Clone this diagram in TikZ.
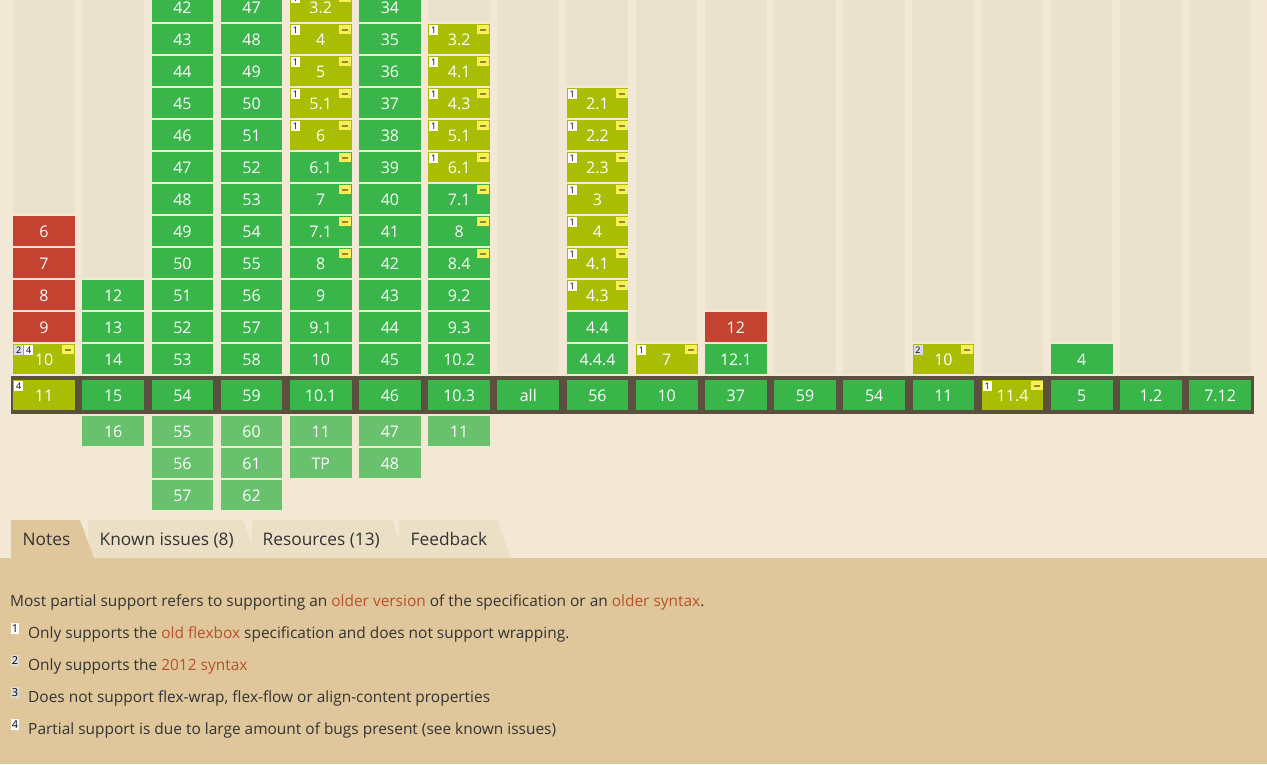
\documentclass[tikz,border=0pt]{standalone}
\usepackage{fontspec}
\setmainfont{Open Sans}
\usetikzlibrary{calc}
\definecolor{pagebg}{HTML}{F2E8D5}
\definecolor{stripecol}{HTML}{EAE1CF}
\definecolor{ygreen}{HTML}{39B54A}
\definecolor{ypartial}{HTML}{A8BD04}
\definecolor{nred}{HTML}{C44230}
\definecolor{fgreen}{HTML}{69C16E}
\definecolor{barcol}{HTML}{5B4F3F}
\definecolor{notesbg}{HTML}{DFC79B}
\definecolor{tabinact}{HTML}{EBDFC5}
\definecolor{markyellow}{HTML}{F7F05A}
\definecolor{markdash}{HTML}{8F8A2C}
\definecolor{linkcol}{HTML}{B8512C}
\definecolor{txtcol}{HTML}{333333}
\definecolor{notegrey}{HTML}{DCDCDC}
\tikzset{
  cellbox/.style={anchor=north west, inner sep=0pt, minimum width=61.7pt, minimum height=30pt,
    text height=13.4pt, text depth=0pt, text=white, font=\fontsize{16}{16}\selectfont},
  green/.style={fill=ygreen}, partial/.style={fill=ypartial}, red/.style={fill=nred},
  future/.style={fill=fgreen},
  notebox/.style={anchor=north west, inner sep=0pt, minimum width=9pt, minimum height=10pt,
    text=black, font=\fontsize{9}{9}\selectfont},
  legendbox/.style={anchor=north west, inner sep=0pt, minimum width=7.5pt, minimum height=11.5pt,
    text=black, font=\fontsize{11}{11}\selectfont},
  tabtext/.style={anchor=base west, inner sep=0pt, text=txtcol, font=\fontsize{17.3}{17.3}\selectfont},
  notetext/.style={anchor=base west, inner sep=0pt, text=txtcol, font=\fontsize{15.45}{15.45}\selectfont},
}
\newcommand\vcell[5]{\node[cellbox,#3] (#5) at ({13+69.18*(#1-1)},#2) {#4};}
\newcommand\pcell[4]{\pgfmathsetmacro\yy{344-32*#2}\vcell{#1}{\yy}{#3}{#4}{p#1-#2}}
\newcommand\ccell[3]{\vcell{#1}{380}{#2}{#3}{c#1}}
\newcommand\fcell[3]{\pgfmathsetmacro\yy{416+32*(#2-1)}\vcell{#1}{\yy}{future}{#3}{f#1-#2}}
\newcommand\prefmark[1]{%
  \fill[markyellow] ([shift={(-13,1)}]#1.north east) rectangle ([shift={(-1,10)}]#1.north east);
  \draw[markdash, line width=2pt] ([shift={(-10,5.5)}]#1.north east) -- ([shift={(-4,5.5)}]#1.north east);}
\newcommand\notemark[4]{\node[notebox,fill=#4] (#1n#3) at ([shift={(#2,1)}]#1.north west) {#3};}
\newcommand\ppart[3]{\pcell{#1}{#2}{partial}{#3}\notemark{p#1-#2}{1}{1}{white}\prefmark{p#1-#2}}
\newcommand\pgm[3]{\pcell{#1}{#2}{green}{#3}\prefmark{p#1-#2}}
\newcommand\stripe[2]{\fill[stripecol] ({13+69.18*(#1-1)},0) rectangle ({13+69.18*(#1-1)+61.7},#2);}
\begin{document}
\begin{tikzpicture}[x=1pt,y=-1pt]
\fill[pagebg] (0,0) rectangle (1267,764);
\useasboundingbox (0,0) rectangle (1267,764);
% stripes
\stripe{1}{214}\stripe{2}{278}\stripe{7}{22}\stripe{8}{374}\stripe{9}{86}
\stripe{10}{342}\stripe{11}{310}\stripe{12}{374}\stripe{13}{374}\stripe{14}{342}
\stripe{15}{374}\stripe{16}{342}\stripe{17}{374}\stripe{18}{374}
% current-row bar
\fill[barcol] (11,376) rectangle (1254,414);
% col 1
\pcell{1}{4}{red}{6}\pcell{1}{3}{red}{7}\pcell{1}{2}{red}{8}\pcell{1}{1}{red}{9}
\pcell{1}{0}{partial}{10}\notemark{p1-0}{1}{2}{notegrey}\notemark{p1-0}{11}{4}{white}\prefmark{p1-0}
\ccell{1}{partial}{11}\notemark{c1}{1}{4}{white}
% col 2
\pcell{2}{2}{green}{12}\pcell{2}{1}{green}{13}\pcell{2}{0}{green}{14}
\ccell{2}{green}{15}\fcell{2}{1}{16}
% col 3
\foreach \k in {0,...,11}{\pgfmathtruncatemacro\v{53-\k}\pcell{3}{\k}{green}{\v}}
\ccell{3}{green}{54}\fcell{3}{1}{55}\fcell{3}{2}{56}\fcell{3}{3}{57}
% col 4
\foreach \k in {0,...,11}{\pgfmathtruncatemacro\v{58-\k}\pcell{4}{\k}{green}{\v}}
\ccell{4}{green}{59}\fcell{4}{1}{60}\fcell{4}{2}{61}\fcell{4}{3}{62}
% col 5
\pcell{5}{0}{green}{10}\pcell{5}{1}{green}{9.1}\pcell{5}{2}{green}{9}
\pgm{5}{3}{8}\pgm{5}{4}{7.1}\pgm{5}{5}{7}\pgm{5}{6}{6.1}
\ppart{5}{7}{6}\ppart{5}{8}{5.1}\ppart{5}{9}{5}\ppart{5}{10}{4}\ppart{5}{11}{3.2}
\ccell{5}{green}{10.1}\fcell{5}{1}{11}\fcell{5}{2}{TP}
% col 6
\foreach \k in {0,...,11}{\pgfmathtruncatemacro\v{45-\k}\pcell{6}{\k}{green}{\v}}
\ccell{6}{green}{46}\fcell{6}{1}{47}\fcell{6}{2}{48}
% col 7
\pcell{7}{0}{green}{10.2}\pcell{7}{1}{green}{9.3}\pcell{7}{2}{green}{9.2}
\pgm{7}{3}{8.4}\pgm{7}{4}{8}\pgm{7}{5}{7.1}
\ppart{7}{6}{6.1}\ppart{7}{7}{5.1}\ppart{7}{8}{4.3}\ppart{7}{9}{4.1}\ppart{7}{10}{3.2}
\ccell{7}{green}{10.3}\fcell{7}{1}{11}
% col 8
\ccell{8}{green}{all}
% col 9
\pcell{9}{0}{green}{4.4.4}\pcell{9}{1}{green}{4.4}
\ppart{9}{2}{4.3}\ppart{9}{3}{4.1}\ppart{9}{4}{4}\ppart{9}{5}{3}
\ppart{9}{6}{2.3}\ppart{9}{7}{2.2}\ppart{9}{8}{2.1}
\ccell{9}{green}{56}
% col 10
\ppart{10}{0}{7}\ccell{10}{green}{10}
% col 11
\pcell{11}{0}{green}{12.1}\pcell{11}{1}{red}{12}\ccell{11}{green}{37}
% cols 12-18
\ccell{12}{green}{59}\ccell{13}{green}{54}
\pcell{14}{0}{partial}{10}\notemark{p14-0}{1}{2}{notegrey}\prefmark{p14-0}\ccell{14}{green}{11}
\ccell{15}{partial}{11.4}\notemark{c15}{1}{1}{white}\prefmark{c15}
\pcell{16}{0}{green}{4}\ccell{16}{green}{5}
\ccell{17}{green}{1.2}\ccell{18}{green}{7.12}
% notes area and tabs
\fill[notesbg] (0,558) rectangle (1267,764);
\fill[tabinact] (399,520) -- (497,520) -- (511,558) -- (399,558) -- cycle;
\fill[tabinact] (252,520) -- (392,520) -- (406,558) -- (252,558) -- cycle;
\fill[tabinact] (88,520) -- (243,520) -- (257,558) -- (88,558) -- cycle;
\fill[notesbg] (11,520) -- (80,520) -- (94,558) -- (11,558) -- cycle;
\node[tabtext] (tabnotes) at (22.5,545.7) {Notes};
\node[tabtext] (tabissues) at (99.5,545.7) {Known issues (8)};
\node[tabtext] (tabres) at (262.5,545.7) {Resources (13)};
\node[tabtext] (tabfb) at (410.5,545.7) {Feedback};
% notes
\node[notetext] (n0) at (10,606) {Most partial support refers to supporting an \textcolor{linkcol}{older version} of the specification or an \textcolor{linkcol}{older syntax}.};
\node[notetext] (n1) at (28,638) {Only supports the \textcolor{linkcol}{old flexbox} specification and does not support wrapping.};
\node[notetext] (n2) at (28,670) {Only supports the \textcolor{linkcol}{2012 syntax}};
\node[notetext] (n3) at (28,702) {Does not support flex-wrap, flex-flow or align-content properties};
\node[notetext] (n4) at (28,734) {Partial support is due to large amount of bugs present (see known issues)};
\node[legendbox,fill=white] (k1) at (11,622.5) {1};
\node[legendbox,fill=notegrey] (k2) at (11,654.5) {2};
\node[legendbox,fill=notegrey] (k3) at (11,686.5) {3};
\node[legendbox,fill=white] (k4) at (11,718.5) {4};
\end{tikzpicture}
\end{document}
